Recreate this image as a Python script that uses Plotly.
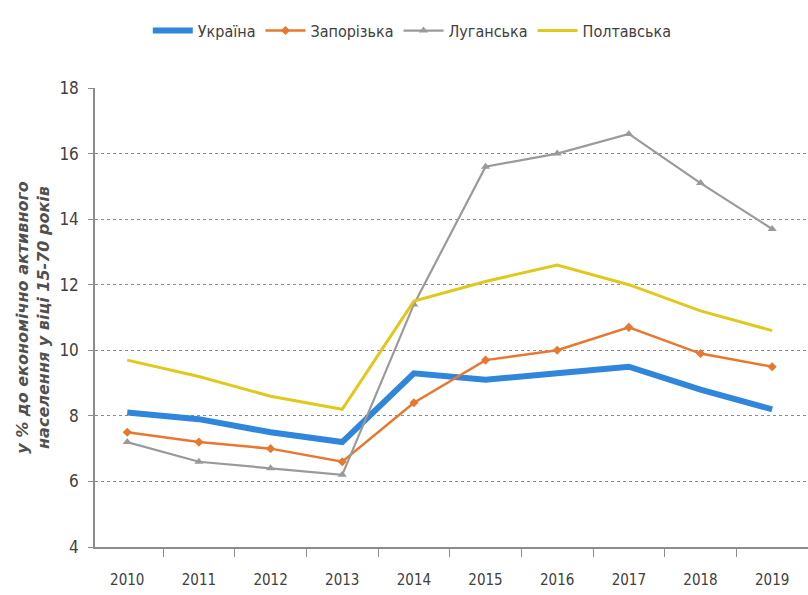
import plotly.graph_objects as go

years = ["2010", "2011", "2012", "2013", "2014", "2015", "2016", "2017", "2018", "2019"]
ukraine = [8.1, 7.9, 7.5, 7.2, 9.3, 9.1, 9.3, 9.5, 8.8, 8.2]
zaporizka = [7.5, 7.2, 7.0, 6.6, 8.4, 9.7, 10.0, 10.7, 9.9, 9.5]
luhanska = [7.2, 6.6, 6.4, 6.2, 11.4, 15.6, 16.0, 16.6, 15.1, 13.7]
poltavska = [9.7, 9.2, 8.6, 8.2, 11.5, 12.1, 12.6, 12.0, 11.2, 10.6]

FONT = "DejaVu Sans Condensed, Liberation Sans Narrow, Liberation Sans, sans-serif"

fig = go.Figure()
fig.add_trace(go.Scatter(x=years, y=ukraine, name="Україна", mode="lines",
                         line=dict(color="#2F86DA", width=6)))
fig.add_trace(go.Scatter(x=years, y=zaporizka, name="Запорізька", mode="lines+markers",
                         line=dict(color="#E8782F", width=2.5),
                         marker=dict(symbol="diamond", size=7, color="#E8782F")))
fig.add_trace(go.Scatter(x=years, y=luhanska, name="Луганська", mode="lines+markers",
                         line=dict(color="#9A9A9A", width=2.2),
                         marker=dict(symbol="triangle-up", size=8, color="#9A9A9A")))
fig.add_trace(go.Scatter(x=years, y=poltavska, name="Полтавська", mode="lines",
                         line=dict(color="#E0C81C", width=3)))

fig.update_layout(
    width=808, height=595,
    margin=dict(l=95, r=0, t=88, b=48),
    paper_bgcolor="white", plot_bgcolor="white",
    font=dict(family=FONT, size=15, color="#404040"),
    showlegend=True,
    legend=dict(orientation="h", x=0.445, xanchor="center", y=1.125, yanchor="middle",
                font=dict(family=FONT, size=16, color="#404040"),
                itemwidth=40, tracegroupgap=0),
    xaxis=dict(
        type="category", range=[-0.45, 9.5],
        showgrid=False, showline=True, linecolor="#8C8C8C", linewidth=1.5,
        ticks="outside", tickson="boundaries", ticklen=8, tickcolor="#8C8C8C",
        ticklabelstandoff=18,
        tickfont=dict(family=FONT, size=15, color="#404040"),
    ),
    yaxis=dict(
        range=[4, 18], dtick=2,
        showgrid=True, gridcolor="#8A8A8A", gridwidth=1.2, griddash="dot",
        showline=True, linecolor="#8C8C8C", linewidth=1.5,
        ticks="outside", ticklen=5, tickcolor="#8C8C8C",
        ticklabelstandoff=6,
        tickfont=dict(family=FONT, size=17, color="#404040"),
        zeroline=False,
        title=dict(text="<i><b>у % до економічно активного<br>населення у віці 15-70 років</b></i>",
                   font=dict(family="DejaVu Sans", size=16, color="#505050"),
                   standoff=6),
    ),
)

fig.write_html("out.html")
